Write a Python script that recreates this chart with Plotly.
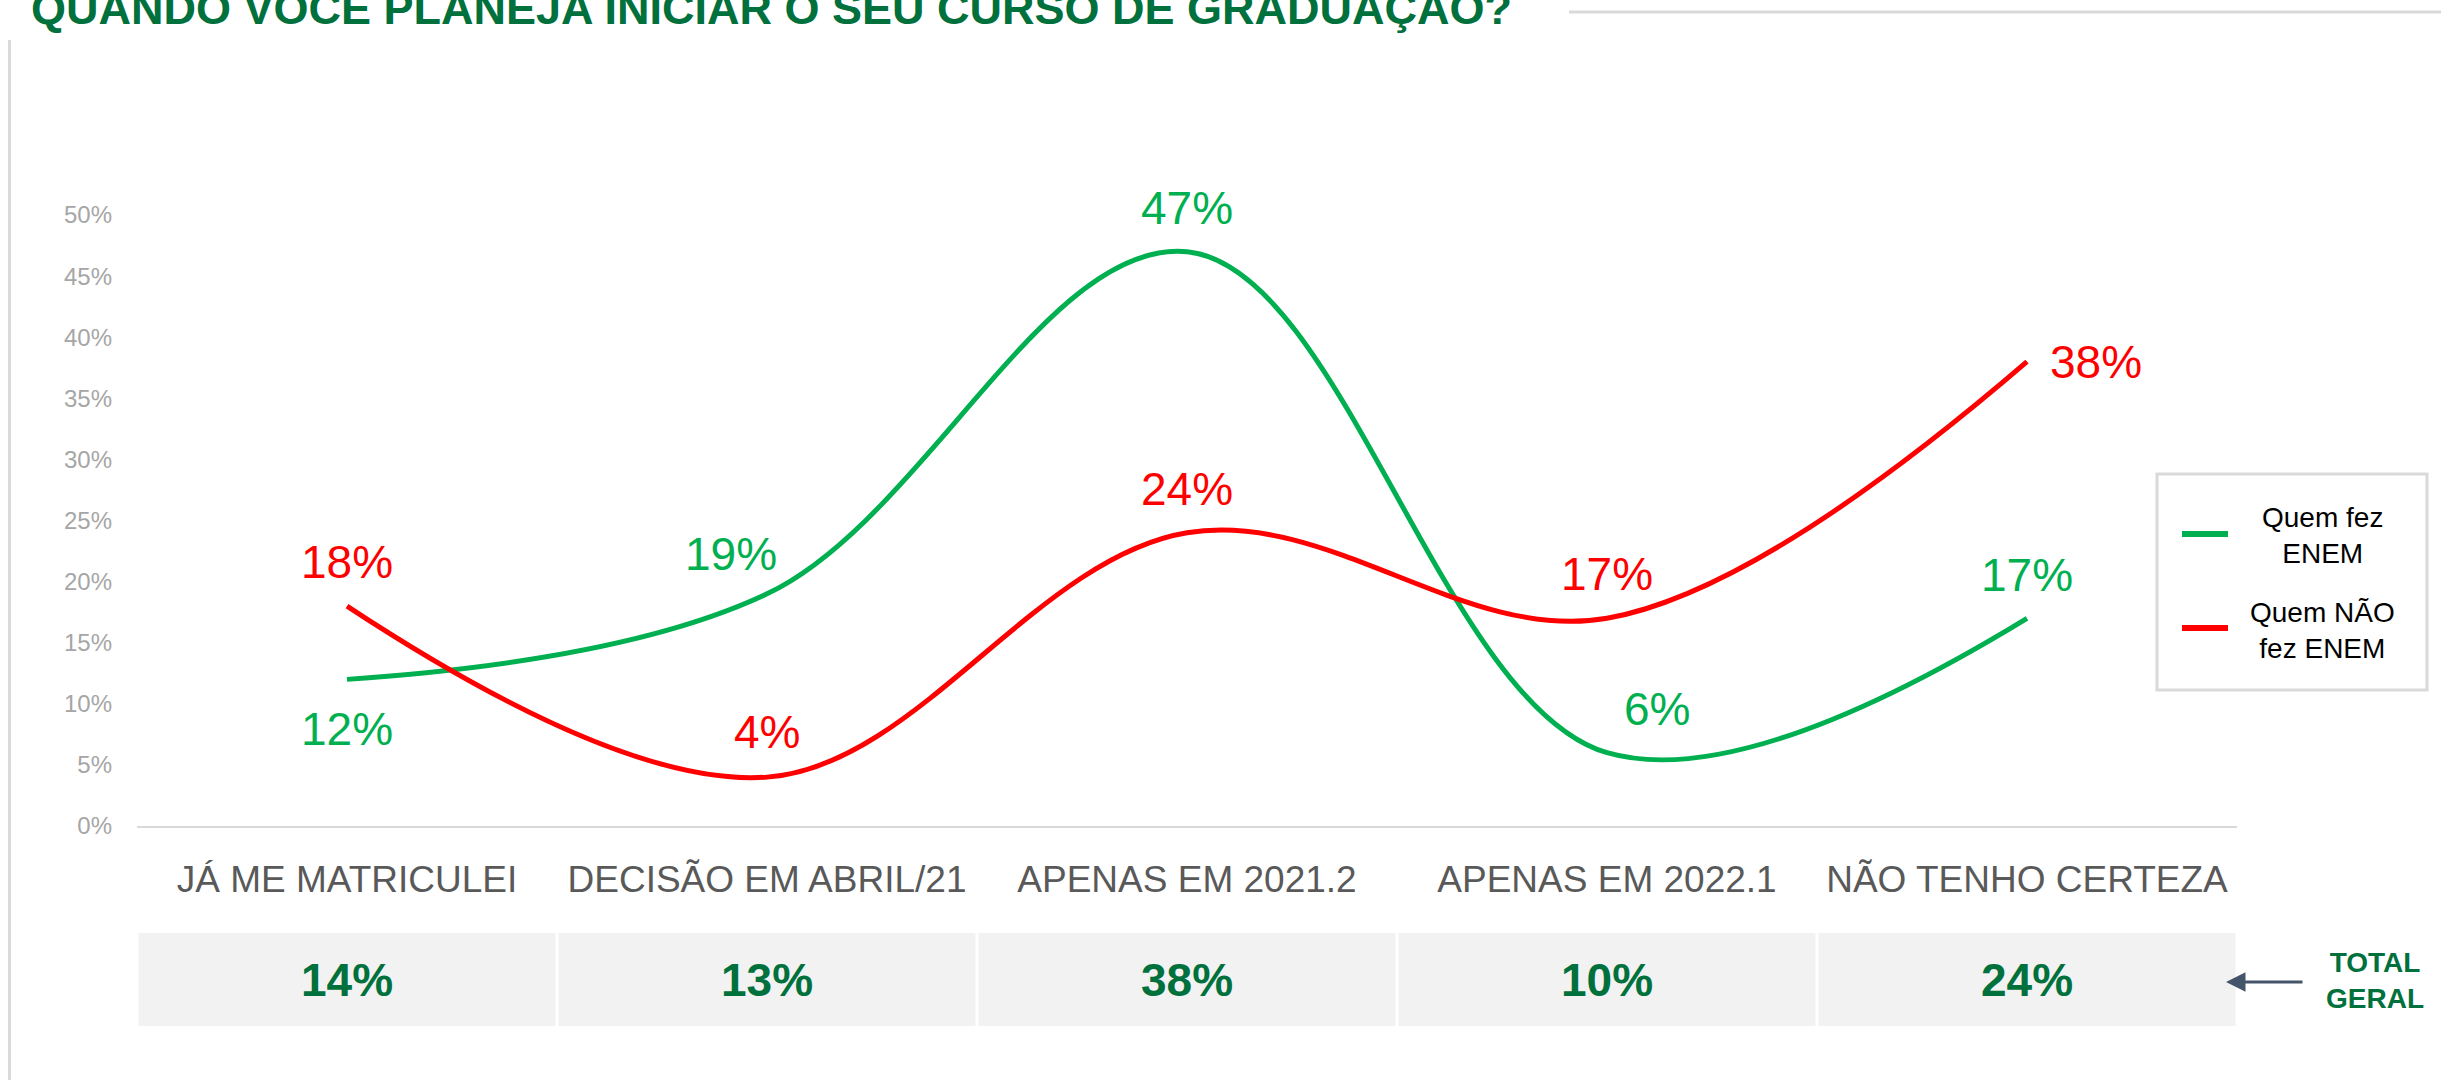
import plotly.graph_objects as go

W, H = 2441, 1080

categories = ["JÁ ME MATRICULEI", "DECISÃO EM ABRIL/21", "APENAS EM 2021.2",
              "APENAS EM 2022.1", "NÃO TENHO CERTEZA"]
fez_enem = [12, 19, 47, 6, 17]
nao_fez_enem = [18, 4, 24, 17, 38]
total_geral = [14, 13, 38, 10, 24]
y_ticks = [0, 5, 10, 15, 20, 25, 30, 35, 40, 45, 50]

GREEN = "#00B050"
RED = "#FF0000"
DARK_GREEN = "#00703C"
FONT = "Liberation Sans, Arial, sans-serif"

# label offsets (px) for each data label, like the hand-moved labels in the original
green_shift = [(0, -50), (-36, 40), (0, 44), (50, 44), (0, 43)]
red_shift = [(0, 44), (0, 45), (0, 44), (0, 44), (69, 0)]


def px_x(p):
    return p / W


def px_y(p):
    return 1 - p / H


idx = list(range(len(categories)))

fig = go.Figure()

fig.add_trace(go.Scatter(
    x=idx, y=fez_enem, mode="lines", name="Quem fez ENEM",
    line=dict(color=GREEN, width=5, shape="spline", smoothing=1.05),
    hoverinfo="skip", showlegend=False,
))
fig.add_trace(go.Scatter(
    x=idx, y=nao_fez_enem, mode="lines", name="Quem NÃO fez ENEM",
    line=dict(color=RED, width=5, shape="spline", smoothing=1.05),
    hoverinfo="skip", showlegend=False,
))

# total geral row as grey cells
fig.add_trace(go.Bar(
    x=idx, y=[1] * len(total_geral), xaxis="x2", yaxis="y2", width=0.993,
    marker=dict(color="#F2F2F2", line=dict(width=0)),
    text=[f"{v}%" for v in total_geral], textposition="inside",
    insidetextanchor="middle", textangle=0,
    textfont=dict(family=FONT, size=46, color=DARK_GREEN, weight="bold"),
    hoverinfo="skip", showlegend=False,
))

x_dom = [px_x(137), px_x(2237)]

fig.update_layout(
    width=W, height=H,
    margin=dict(l=0, r=0, t=0, b=0, pad=0, autoexpand=False),
    paper_bgcolor="white", plot_bgcolor="white",
    font=dict(family=FONT),
    xaxis=dict(
        domain=x_dom, range=[-0.5, 4.5],
        tickvals=idx, ticktext=categories,
        tickfont=dict(family=FONT, size=37, color="#595959"),
        showgrid=False, zeroline=False,
        showline=True, linecolor="#D9D9D9", linewidth=2,
        ticks="", ticklabelstandoff=20, automargin=False,
    ),
    yaxis=dict(
        domain=[px_y(826), px_y(154)], range=[0, 55],
        tickvals=y_ticks, ticktext=[f"{v}%" for v in y_ticks],
        tickfont=dict(family=FONT, size=24, color="#A6A6A6"),
        showgrid=False, zeroline=False, showline=False,
        ticks="", ticklabelstandoff=24, automargin=False,
    ),
    xaxis2=dict(domain=x_dom, range=[-0.5, 4.5], anchor="y2", visible=False, automargin=False),
    yaxis2=dict(domain=[px_y(1026), px_y(933)], range=[0, 1], anchor="x2", visible=False,
                automargin=False),
)

shapes = [
    # slide frame lines
    dict(type="line", xref="paper", yref="paper", x0=px_x(1569), x1=1, y0=px_y(12), y1=px_y(12),
         line=dict(color="#D9D9D9", width=3)),
    dict(type="line", xref="paper", yref="paper", x0=px_x(9.5), x1=px_x(9.5), y0=px_y(40), y1=0,
         line=dict(color="#D9D9D9", width=3)),
    # legend box
    dict(type="rect", xref="paper", yref="paper", x0=px_x(2157), x1=px_x(2427), y0=px_y(690), y1=px_y(474),
         line=dict(color="#D9D9D9", width=3), fillcolor="white"),
    dict(type="line", xref="paper", yref="paper", x0=px_x(2182), x1=px_x(2228), y0=px_y(534), y1=px_y(534),
         line=dict(color=GREEN, width=6)),
    dict(type="line", xref="paper", yref="paper", x0=px_x(2182), x1=px_x(2228), y0=px_y(628), y1=px_y(628),
         line=dict(color=RED, width=6)),
]
fig.update_layout(shapes=shapes)

annotations = [
    dict(text="<b>QUANDO VOCÊ PLANEJA INICIAR O SEU CURSO DE GRADUAÇÃO?</b>",
         xref="paper", yref="paper", x=px_x(29), y=px_y(8), xanchor="left", yanchor="middle",
         showarrow=False, font=dict(family=FONT, size=45, color=DARK_GREEN)),
    dict(text="Quem fez<br>ENEM", xref="paper", yref="paper", x=px_x(2322), y=px_y(535),
         xanchor="center", yanchor="middle", align="center", showarrow=False,
         font=dict(family=FONT, size=28, color="black")),
    dict(text="Quem NÃO<br>fez ENEM", xref="paper", yref="paper", x=px_x(2322), y=px_y(630),
         xanchor="center", yanchor="middle", align="center", showarrow=False,
         font=dict(family=FONT, size=28, color="black")),
    dict(text="<b>TOTAL<br>GERAL</b>", xref="paper", yref="paper", x=px_x(2375), y=px_y(980),
         xanchor="center", yanchor="middle", align="center", showarrow=False,
         font=dict(family=FONT, size=28, color=DARK_GREEN)),
    dict(text="", xref="paper", yref="paper", x=px_x(2226), y=px_y(982),
         ax=78, ay=0, showarrow=True, arrowhead=2, arrowsize=1.3, arrowwidth=3,
         arrowcolor="#44546A"),
]

# data labels
for series, shifts, color in [(fez_enem, green_shift, GREEN), (nao_fez_enem, red_shift, RED)]:
    for i, v in enumerate(series):
        dx, dy = shifts[i]
        annotations.append(dict(
            text=f"{v}%", x=i, y=v, xref="x", yref="y", xshift=dx, yshift=dy,
            xanchor="center", yanchor="middle", showarrow=False,
            font=dict(family=FONT, size=46, color=color),
        ))

fig.update_layout(annotations=annotations)

# page body has a default 8px margin; drop it so the figure fills the window exactly
fig.write_html("out.html", config={"displayModeBar": False},
               post_script="document.body.style.margin='0';")
